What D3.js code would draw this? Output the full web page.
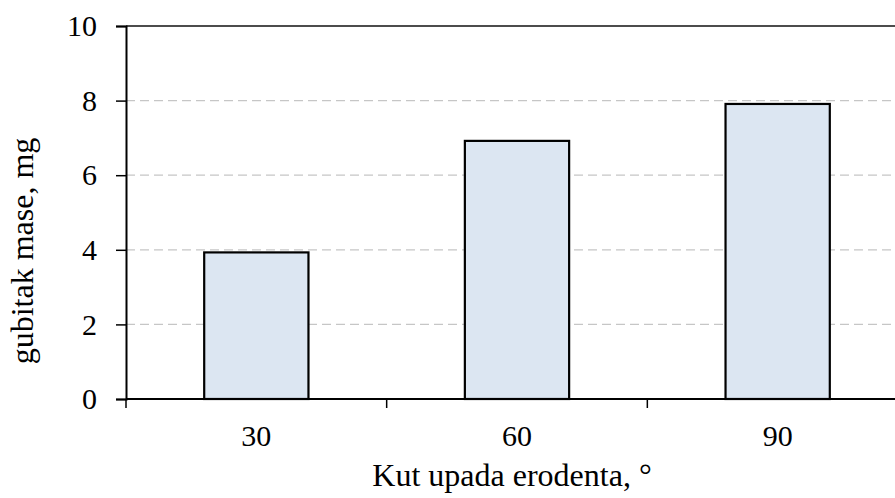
<!DOCTYPE html>
<html>
<head>
<meta charset="utf-8">
<script src="https://cdn.jsdelivr.net/npm/d3@7"></script>
<style>
  html, body { margin: 0; padding: 0; background: #fff; }
  svg { display: block; }
</style>
</head>
<body>
<svg id="chart" width="895" height="498"></svg>
<script>
// Mass loss vs. erodent impact angle
const categories = ["30", "60", "90"];
const massLoss = [3.93, 6.92, 7.91];
const yTicks = [0, 2, 4, 6, 8, 10];

const FONT = "'Liberation Serif', 'Times New Roman', Times, serif";
const TICK_FS = "30px";
const TITLE_FS = "32px";

const svg = d3.select("#chart");
const margin = { left: 126, top: 26, bottom: 99 };
const plotRight = 908;          // plot area runs past the right edge of the page
const height = 498;
const innerBottom = height - margin.bottom;

const x = d3.scaleBand()
  .domain(categories)
  .range([margin.left, plotRight])
  .paddingInner(0.6)
  .paddingOuter(0.3);

const y = d3.scaleLinear().domain([0, 10]).range([innerBottom, margin.top]);

// dashed horizontal grid
svg.append("g")
  .selectAll("line")
  .data(yTicks.filter(t => t > 0 && t < 10))
  .join("line")
  .attr("x1", margin.left).attr("x2", plotRight)
  .attr("y1", d => y(d)).attr("y2", d => y(d))
  .attr("stroke", "#c6c6c6")
  .attr("stroke-width", 1.3)
  .attr("stroke-dasharray", "9,5");

// top frame line
svg.append("line")
  .attr("x1", margin.left).attr("x2", plotRight)
  .attr("y1", y(10)).attr("y2", y(10))
  .attr("stroke", "#111").attr("stroke-width", 1.6);

// bars
svg.append("g")
  .selectAll("rect")
  .data(categories.map((c, i) => ({ c, v: massLoss[i] })))
  .join("rect")
  .attr("x", d => x(d.c))
  .attr("width", x.bandwidth())
  .attr("y", d => y(d.v))
  .attr("height", d => y(0) - y(d.v))
  .attr("fill", "#dce6f2")
  .attr("stroke", "#000")
  .attr("stroke-width", 2.2);

// y axis
const yAxis = svg.append("g")
  .attr("transform", `translate(${margin.left},0)`)
  .call(d3.axisLeft(y).tickValues(yTicks).tickFormat(d3.format("d")).tickSize(10).tickPadding(19));
yAxis.attr("font-family", null).attr("font-size", null);
yAxis.select(".domain").attr("stroke", "#000").attr("stroke-width", 2);
yAxis.selectAll(".tick line").attr("stroke", "#000").attr("stroke-width", 1.5);
yAxis.selectAll("text")
  .style("font-family", FONT).style("font-size", TICK_FS).attr("fill", "#000");

// x axis: ticks on category boundaries
const step = x.step();
const boundaries = d3.range(categories.length + 1).map(i => margin.left + i * step);
const xAxisG = svg.append("g");
xAxisG.append("line")
  .attr("x1", margin.left).attr("x2", plotRight)
  .attr("y1", innerBottom).attr("y2", innerBottom)
  .attr("stroke", "#000").attr("stroke-width", 2);
xAxisG.selectAll("line.tk")
  .data(boundaries)
  .join("line")
  .attr("class", "tk")
  .attr("x1", d => d).attr("x2", d => d)
  .attr("y1", innerBottom).attr("y2", innerBottom + 9)
  .attr("stroke", "#000").attr("stroke-width", 1.5);
xAxisG.selectAll("text")
  .data(categories)
  .join("text")
  .attr("x", d => x(d) + x.bandwidth() / 2)
  .attr("y", innerBottom + 47)
  .attr("text-anchor", "middle")
  .style("font-family", FONT).style("font-size", TICK_FS)
  .text(d => d);

// axis titles
svg.append("text")
  .attr("x", 512)
  .attr("y", 486)
  .attr("text-anchor", "middle")
  .style("font-family", FONT).style("font-size", TITLE_FS)
  .text("Kut upada erodenta, °");

svg.append("text")
  .attr("transform", "translate(33,251) rotate(-90)")
  .attr("text-anchor", "middle")
  .style("font-family", FONT).style("font-size", TITLE_FS)
  .text("gubitak mase, mg");
</script>
</body>
</html>
